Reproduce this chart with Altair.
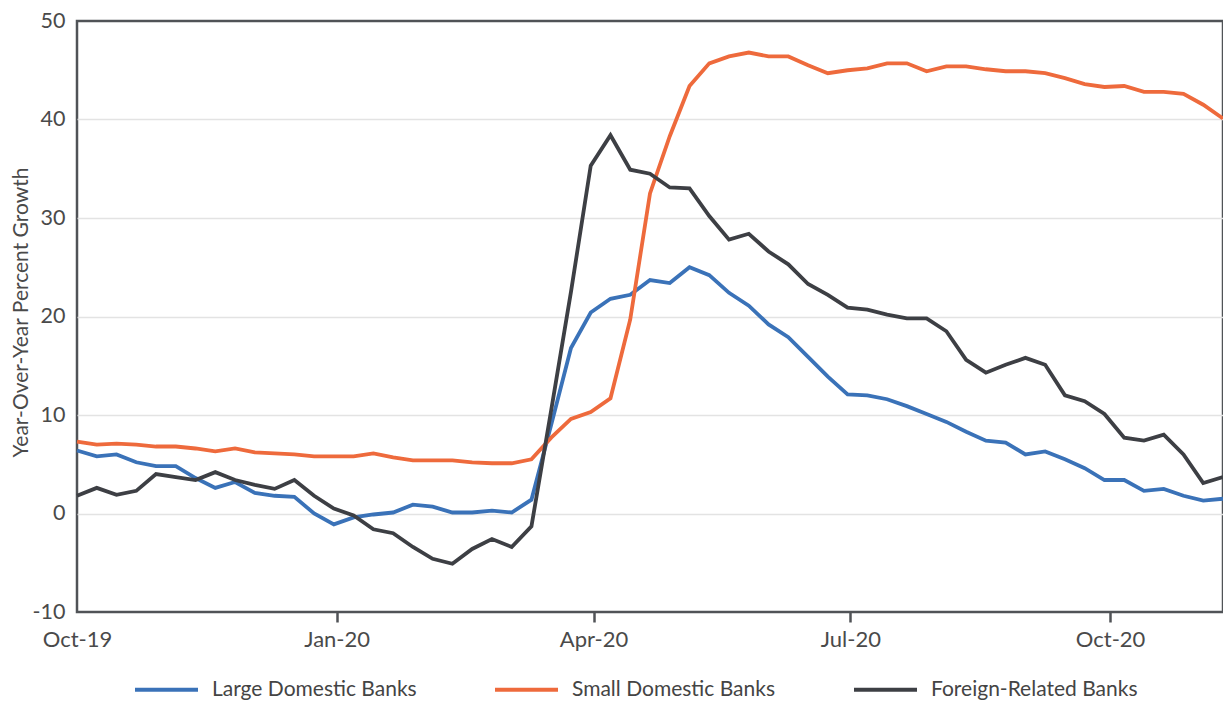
import altair as alt
import pandas as pd

# Weekly observations, Oct 2019 - Nov 2020
dates = [d.strftime("%Y-%m-%d") for d in pd.date_range("2019-10-01", periods=59, freq="7D")]

large_domestic = [6.4, 5.8, 6.0, 5.2, 4.8, 4.8, 3.6, 2.6, 3.2, 2.1,
                  1.8, 1.7, 0.0, -1.1, -0.4, -0.1, 0.1, 0.9, 0.7, 0.1,
                  0.1, 0.3, 0.1, 1.4, 9.0, 16.8, 20.4, 21.8, 22.2, 23.7,
                  23.4, 25.0, 24.2, 22.4, 21.1, 19.2, 17.9, 15.9, 13.9, 12.1,
                  12.0, 11.6, 10.9, 10.1, 9.3, 8.3, 7.4, 7.2, 6.0, 6.3,
                  5.5, 4.6, 3.4, 3.4, 2.3, 2.5, 1.8, 1.3, 1.5]
small_domestic = [7.3, 7.0, 7.1, 7.0, 6.8, 6.8, 6.6, 6.3, 6.6, 6.2,
                  6.1, 6.0, 5.8, 5.8, 5.8, 6.1, 5.7, 5.4, 5.4, 5.4,
                  5.2, 5.1, 5.1, 5.5, 7.7, 9.6, 10.3, 11.7, 19.7, 32.5,
                  38.3, 43.4, 45.7, 46.4, 46.8, 46.4, 46.4, 45.5, 44.7, 45.0,
                  45.2, 45.7, 45.7, 44.9, 45.4, 45.4, 45.1, 44.9, 44.9, 44.7,
                  44.2, 43.6, 43.3, 43.4, 42.8, 42.8, 42.6, 41.5, 40.1]
foreign_related = [1.8, 2.6, 1.9, 2.3, 4.0, 3.7, 3.4, 4.2, 3.4, 2.9,
                   2.5, 3.4, 1.8, 0.5, -0.2, -1.6, -2.0, -3.4, -4.6, -5.1,
                   -3.6, -2.6, -3.4, -1.3, 10.5, 22.5, 35.3, 38.4, 34.9, 34.5,
                   33.1, 33.0, 30.2, 27.8, 28.4, 26.6, 25.3, 23.3, 22.2, 20.9,
                   20.7, 20.2, 19.8, 19.8, 18.5, 15.6, 14.3, 15.1, 15.8, 15.1,
                   12.0, 11.4, 10.1, 7.7, 7.4, 8.0, 6.0, 3.1, 3.7]

series_names = ["Large Domestic Banks", "Small Domestic Banks", "Foreign-Related Banks"]
series_colors = ["#3a72b8", "#ee6a3c", "#3d3f44"]
y_ticks = [-10, 0, 10, 20, 30, 40, 50]
x_tick_dates = ["2019-10-01", "2020-01-01", "2020-04-01", "2020-07-01", "2020-10-01"]
x_domain_dates = ["2019-10-01", "2020-11-10"]

def ms(s):
    return int(pd.Timestamp(s, tz="UTC").value // 10**6)

rows = []
for name, vals in zip(series_names, [large_domestic, small_domestic, foreign_related]):
    for d, v in zip(dates, vals):
        rows.append({"date": d, "value": v, "series": name})
df = pd.DataFrame(rows)

FONT = "Lato"
TXT = "#4a4a4a"
FRAME = "#505357"

chart = alt.Chart(df).mark_line(strokeWidth=3.8, strokeJoin="miter").encode(
    x=alt.X("date:T",
            scale=alt.Scale(type="utc", domain=[ms(x) for x in x_domain_dates]),
            axis=alt.Axis(values=[ms(x) for x in x_tick_dates],
                          labelExpr="utcFormat(datum.value, '%b-%y')",
                          title=None, grid=False, domain=False,
                          ticks=True, tickSize=10, tickWidth=2.5, tickColor=FRAME,
                          tickOpacity={"condition": {"test": "utcyear(datum.value) == 2019", "value": 0}, "value": 1},
                          labelFont=FONT, labelFontSize=22, labelColor=TXT, labelPadding=7,
                          labelFlush=False)),
    y=alt.Y("value:Q",
            scale=alt.Scale(domain=[-10, 50], nice=False, zero=False),
            axis=alt.Axis(values=y_ticks, title="Year-Over-Year Percent Growth",
                          labelExpr="'' + datum.value",
                          titleFont=FONT, titleFontSize=21, titleFontWeight="normal", titleColor=TXT,
                          titleAngle=270, titleX=-56, titleY=291, titleAlign="center",
                          titleBaseline="middle",
                          labelFont=FONT, labelFontSize=21.5, labelColor=TXT, labelPadding=12,
                          ticks=False, domain=False,
                          gridColor="#e3e3e3", gridWidth=1.5,
                          gridOpacity={"condition": {"test": "datum.value == -10 || datum.value == 50", "value": 0}, "value": 1})),
    color=alt.Color("series:N",
                    scale=alt.Scale(domain=series_names, range=series_colors),
                    legend=alt.Legend(orient="none", legendX=56, legendY=635, direction="horizontal",
                                      title=None, symbolType="stroke", symbolSize=3969,
                                      symbolStrokeWidth=4, labelFont=FONT, labelFontSize=21,
                                      labelLimit=0,
                                      labelColor="#444444", labelOffset=12, columnPadding=70)),
    order=alt.Order("date:T"),
).properties(
    width=1146, height=591,
    padding={"left": 69, "top": 13, "right": 0, "bottom": 88},
    autosize=alt.AutoSizeParams(type="none"),
).configure_view(stroke=FRAME, strokeWidth=2.5)

chart.save("out.html", embed_options={"renderer": "svg", "actions": False})
